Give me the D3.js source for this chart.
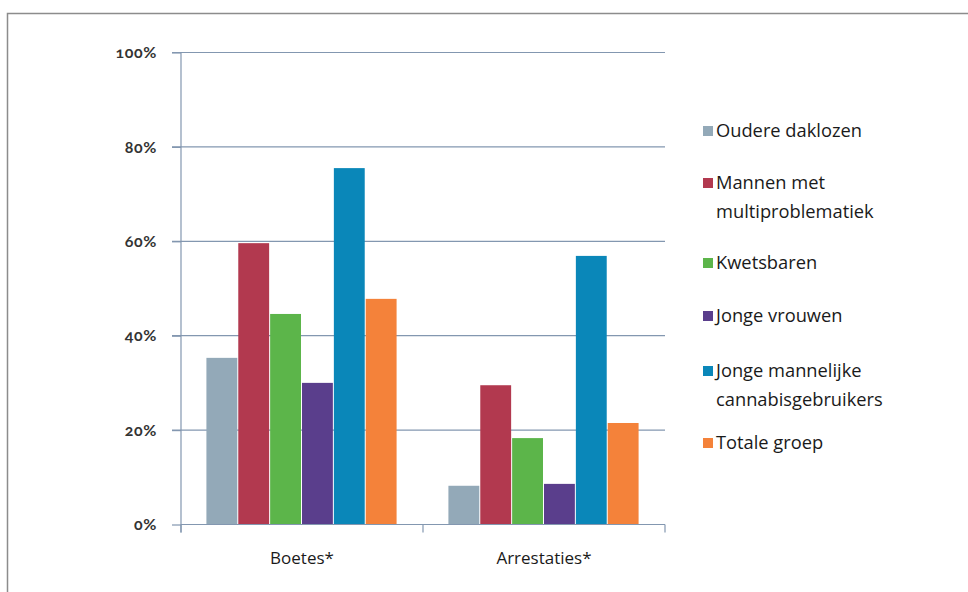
<!DOCTYPE html>
<html><head><meta charset="utf-8">
<script src="https://cdn.jsdelivr.net/npm/d3@7"></script>
<style>
html,body{margin:0;padding:0;background:#fff;}
svg{display:block;}
</style></head>
<body>
<svg id="c" width="968" height="592"></svg>
<script>
const categories = ["Boetes*", "Arrestaties*"];
const seriesNames = ["Oudere daklozen", "Mannen met multiproblematiek", "Kwetsbaren", "Jonge vrouwen", "Jonge mannelijke cannabisgebruikers", "Totale groep"];
const legendLines = [["Oudere daklozen"], ["Mannen met", "multiproblematiek"], ["Kwetsbaren"], ["Jonge vrouwen"], ["Jonge mannelijke", "cannabisgebruikers"], ["Totale groep"]];
const boetes = [35.2, 59.5, 44.5, 29.9, 75.4, 47.7];
const arrestaties = [8.1, 29.4, 18.2, 8.5, 56.8, 21.4];
const yTicks = [0, 20, 40, 60, 80, 100];
const colors = ["#93a9b8", "#b2394f", "#5cb54a", "#5a3e8c", "#0a87b9", "#f4823a"];

const values = [boetes, arrestaties];
const svg = d3.select("#c");

// frame
svg.append("path").attr("d", "M7.5,592 L7.5,13.5 L968,13.5")
  .attr("fill", "none").attr("stroke", "#8c8c8c").attr("stroke-width", 1.5);

const pLeft = 181, pRight = 665, pTop = 52, pBottom = 524;
const y = d3.scaleLinear().domain([0, 100]).range([pBottom, pTop]);
const x0 = d3.scaleBand().domain(categories).range([pLeft, pRight]).paddingInner(0.21).paddingOuter(0.105);
const x1 = d3.scaleBand().domain(seriesNames).range([0, x0.bandwidth()]).padding(0);

// gridlines
svg.append("g").selectAll("line").data(yTicks.filter(d => d > 0)).join("line")
  .attr("x1", pLeft - 9).attr("x2", pRight)
  .attr("y1", d => y(d) + 0.5).attr("y2", d => y(d) + 0.5)
  .attr("stroke", "#8397b0").attr("stroke-width", 1.2);

// bars
const g = svg.append("g");
categories.forEach((c, ci) => {
  g.selectAll(null).data(values[ci]).join("rect")
    .attr("x", (d, i) => x0(c) + x1(seriesNames[i]))
    .attr("width", x1.bandwidth() - 1)
    .attr("y", d => y(d))
    .attr("height", d => pBottom - y(d))
    .attr("fill", (d, i) => colors[i]);
});

// y axis
const yAxis = d3.axisLeft(y).tickValues(yTicks).tickSize(9).tickFormat(d => d + "%");
const ya = svg.append("g").attr("transform", `translate(${pLeft},0.5)`).call(yAxis);
ya.select(".domain").attr("stroke", "#8397b0").attr("stroke-width", 1.2).attr("d", `M0,${pTop}V${pBottom + 8}`);
ya.selectAll(".tick line").attr("stroke", "#8397b0").attr("stroke-width", 1.2);
ya.selectAll(".tick text").attr("x", -24).attr("fill", "#333")
  .style("font-family", "Lato, 'Open Sans', sans-serif").style("font-size", "16px").style("font-weight", "bold")
  .style("letter-spacing", "0.6px")
  .style("font-variant-numeric", "oldstyle-nums");

// x axis
const xAxis = d3.axisBottom(x0).tickSize(0).tickFormat(d => d);
const xa = svg.append("g").attr("transform", `translate(0,${pBottom + 0.5})`).call(xAxis);
xa.select(".domain").attr("stroke", "#8397b0").attr("stroke-width", 1.2).attr("d", `M${pLeft},0H${pRight}`);
xa.selectAll(".tick text").attr("dy", 0).attr("y", 39).attr("fill", "#1a1a1a")
  .style("font-family", "'Open Sans', sans-serif").style("font-size", "17px");
// category boundary ticks
const bounds = [pLeft, (x0(categories[0]) + x0.bandwidth() + x0(categories[1])) / 2, pRight];
xa.selectAll(".bound").data(bounds).join("line").attr("class", "bound")
  .attr("x1", d => d).attr("x2", d => d).attr("y1", 0).attr("y2", 8)
  .attr("stroke", "#8397b0").attr("stroke-width", 1.2);

// legend
const legendY = [131, 183, 263, 316, 371, 443];
const lg = svg.append("g");
legendLines.forEach((lines, i) => {
  lg.append("rect").attr("x", 703).attr("y", legendY[i] - 5).attr("width", 10).attr("height", 10).attr("fill", colors[i]);
  lines.forEach((t, j) => {
    lg.append("text").attr("x", 716).attr("y", legendY[i] + j * 28.5).attr("dy", "0.35em")
      .attr("fill", "#1a1a1a").style("font-family", "'Open Sans', sans-serif").style("font-size", "18.3px")
      .text(t);
  });
});
</script>
</body></html>
